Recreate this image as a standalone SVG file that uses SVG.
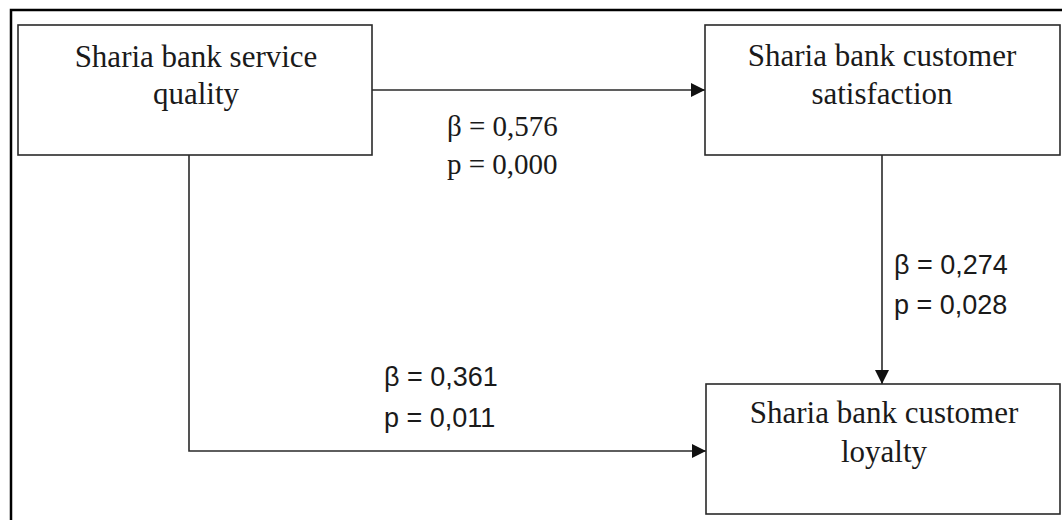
<svg xmlns="http://www.w3.org/2000/svg" width="1062" height="520" viewBox="0 0 1062 520">
  <defs>
    <style>
      .box { fill: #ffffff; stroke: #2a2a2a; stroke-width: 1.6; }
      .node-text { font-family: "Liberation Serif", "Times New Roman", serif; font-size: 31px; fill: #1a1a1a; text-anchor: middle; }
      .edge { fill: none; stroke: #2a2a2a; stroke-width: 1.6; }
      .lbl-sans { font-family: "Liberation Sans", Arial, sans-serif; font-size: 27px; fill: #1a1a1a; }
      .lbl-serif { font-family: "Liberation Serif", "Times New Roman", serif; font-size: 29px; fill: #1a1a1a; }
    </style>
    <marker id="arrow" viewBox="0 0 14 14" refX="14" refY="7" markerWidth="14" markerHeight="14" markerUnits="userSpaceOnUse" orient="auto">
      <path d="M0,0 L14,7 L0,14 Z" fill="#111111"/>
    </marker>
  </defs>
  <rect x="0" y="0" width="1062" height="520" fill="#ffffff"/>
  <path d="M11,520 V10 H1062" fill="none" stroke="#000000" stroke-width="2.5"/>

  <g id="connectors">
    <path class="edge" d="M372,90 H705" marker-end="url(#arrow)"/>
    <path class="edge" d="M882,155 V384" marker-end="url(#arrow)"/>
    <path class="edge" d="M189,155 V451 H706" marker-end="url(#arrow)"/>
    <text class="lbl-serif" x="447" y="136">β = 0,576</text>
    <text class="lbl-serif" x="447" y="174">p = 0,000</text>
    <text class="lbl-sans" x="894" y="274">β = 0,274</text>
    <text class="lbl-sans" x="894" y="314">p = 0,028</text>
    <text class="lbl-sans" x="384" y="386">β = 0,361</text>
    <text class="lbl-sans" x="384" y="427">p = 0,011</text>
  </g>

  <g id="node-service-quality">
    <rect class="box" x="18" y="25" width="354" height="130"/>
    <text class="node-text" x="196" y="67">Sharia bank service</text>
    <text class="node-text" x="196" y="104">quality</text>
  </g>

  <g id="node-satisfaction">
    <rect class="box" x="705" y="25" width="355" height="130"/>
    <text class="node-text" x="882" y="66">Sharia bank customer</text>
    <text class="node-text" x="882" y="104">satisfaction</text>
  </g>

  <g id="node-loyalty">
    <rect class="box" x="706" y="384" width="354" height="130"/>
    <text class="node-text" x="884" y="423">Sharia bank customer</text>
    <text class="node-text" x="884" y="462">loyalty</text>
  </g>
</svg>
